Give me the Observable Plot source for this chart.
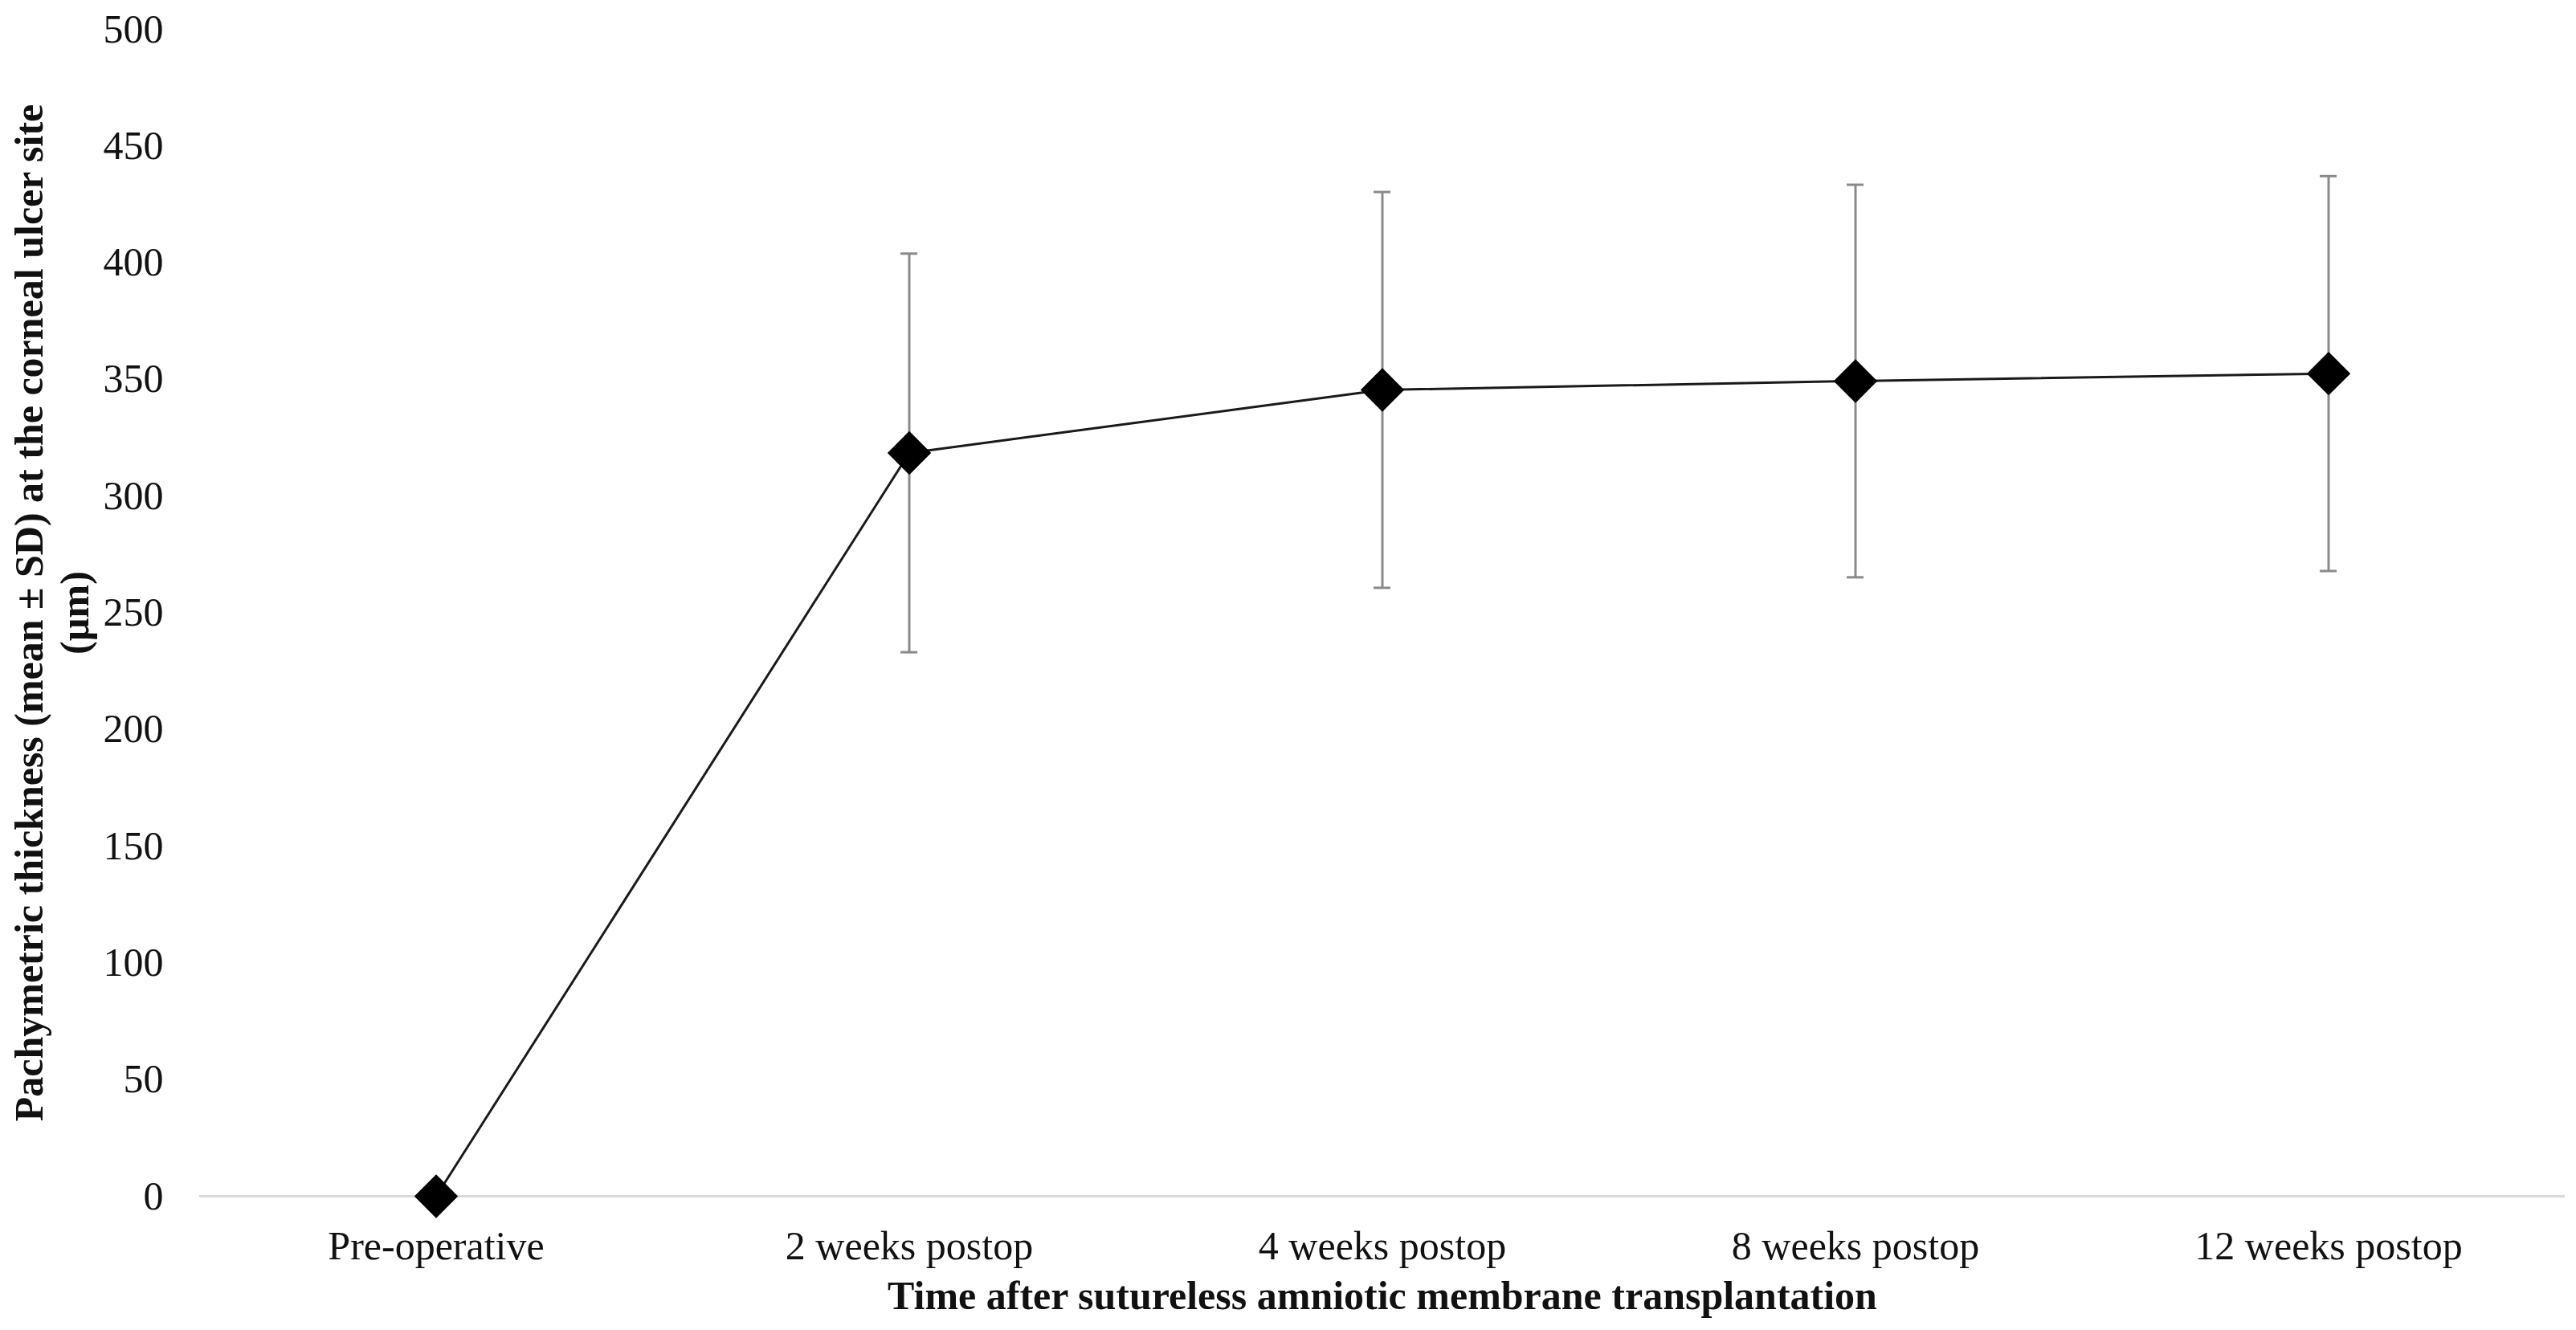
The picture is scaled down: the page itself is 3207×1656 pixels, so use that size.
<!DOCTYPE html>
<html>
<head>
<meta charset="utf-8">
<script src="https://cdn.jsdelivr.net/npm/d3@7"></script>
<script src="https://cdn.jsdelivr.net/npm/@observablehq/plot@0.6"></script>
<style>
  html, body { margin: 0; padding: 0; background: #fff; overflow: hidden; }
</style>
</head>
<body>
<div id="chart"></div>
<script>
const categories = ["Pre-operative", "2 weeks postop", "4 weeks postop", "8 weeks postop", "12 weeks postop"];
const meanThickness = [0, 318.5, 345.5, 349.3, 352.5];
const sdThickness = [0, 85.4, 84.8, 84.1, 84.6];
const yTicks = [0, 50, 100, 150, 200, 250, 300, 350, 400, 450, 500];
const xTitle = "Time after sutureless amniotic membrane transplantation";
const yTitle = "Pachymetric thickness (mean \u00b1 SD) at the corneal ulcer site\n(\u00b5m)";

const data = categories.map((c, i) => ({
  cat: c,
  mean: meanThickness[i],
  lo: meanThickness[i] - sdThickness[i],
  hi: meanThickness[i] + sdThickness[i],
  sd: sdThickness[i]
}));
const withErr = data.filter(d => d.sd > 0);

const W = 3207, H = 1656;
const mL = 248, mR = 14, mT = 36, mB = 167;
const bandW = (W - mL - mR) / categories.length;
const capW = 21;
const capInset = (bandW - capW) / 2;

const chart = Plot.plot({
  width: W,
  height: H,
  marginLeft: mL,
  marginRight: mR,
  marginTop: mT,
  marginBottom: mB,
  style: {
    fontFamily: "'Liberation Serif', 'Times New Roman', serif",
    fontSize: "50px",
    color: "#111",
    background: "#fff",
    overflow: "visible"
  },
  x: {
    type: "band",
    domain: categories,
    padding: 0,
    label: null,
    tickSize: 0,
    tickPadding: 43
  },
  y: {
    domain: [0, 500],
    ticks: yTicks,
    label: null,
    tickSize: 0,
    tickPadding: 45
  },
  marks: [
    Plot.ruleY([0], {stroke: "#d9d9d9", strokeWidth: 3}),
    Plot.ruleX(withErr, {x: "cat", y1: "lo", y2: "hi", stroke: "#8a8a8a", strokeWidth: 3}),
    Plot.tickY(withErr, {x: "cat", y: "hi", stroke: "#8a8a8a", strokeWidth: 3, insetLeft: capInset, insetRight: capInset}),
    Plot.tickY(withErr, {x: "cat", y: "lo", stroke: "#8a8a8a", strokeWidth: 3, insetLeft: capInset, insetRight: capInset}),
    Plot.line(data, {x: "cat", y: "mean", stroke: "#1a1a1a", strokeWidth: 3}),
    Plot.dot(data, {x: "cat", y: "mean", symbol: "diamond2", r: 24.5, fill: "#000", stroke: "none"}),
    Plot.text([xTitle], {frameAnchor: "bottom", dy: 140, fontWeight: "bold", fontSize: 50, fill: "#111"}),
    Plot.text([yTitle], {frameAnchor: "left", dx: -185, rotate: -90, textAnchor: "middle", lineAnchor: "middle", lineHeight: 1.14, fontWeight: "bold", fontSize: 50, fill: "#111"})
  ]
});

document.getElementById("chart").appendChild(chart);
</script>
</body>
</html>
